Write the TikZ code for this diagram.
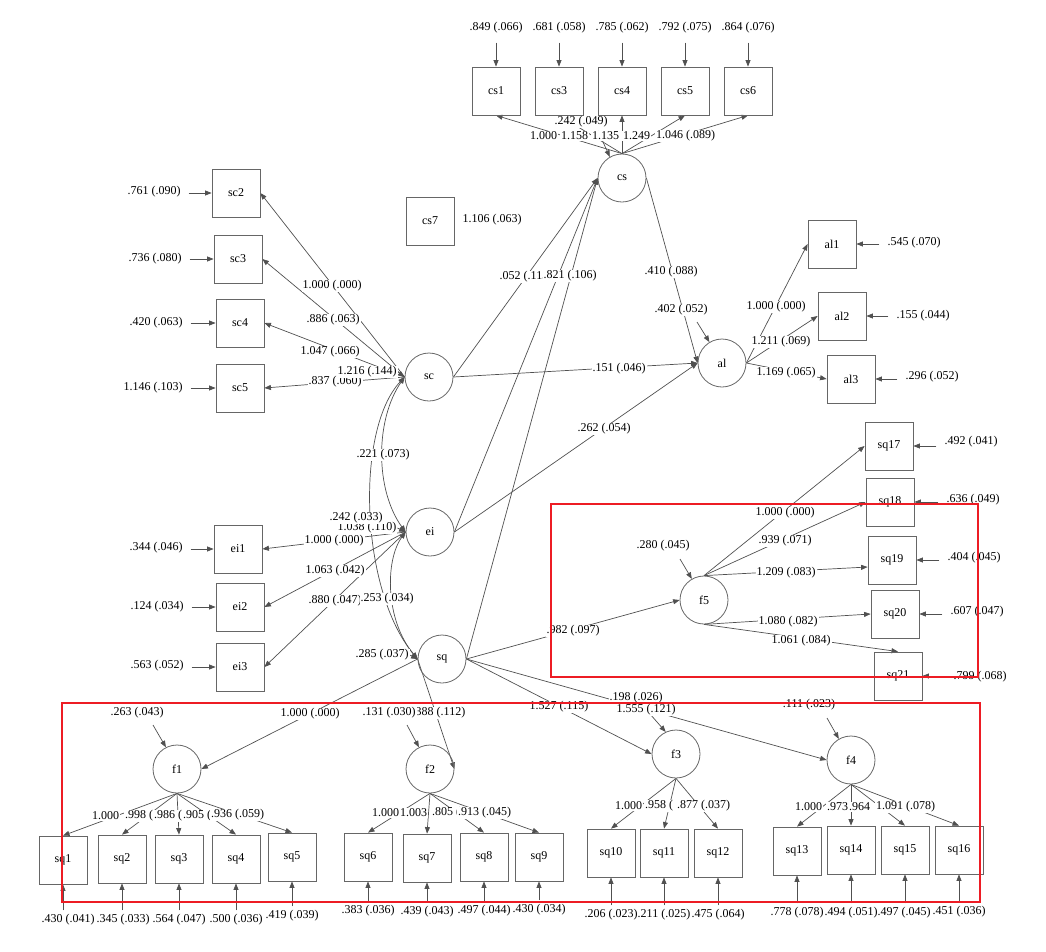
\documentclass[tikz,border=0pt]{standalone}
\usepackage{fontspec}
\setmainfont{Liberation Serif}
\usetikzlibrary{arrows.meta}
\pgfdeclarelayer{bg}
\pgfdeclarelayer{fg}
\pgfsetlayers{bg,main,fg}
\definecolor{hl}{RGB}{237,28,36}
\definecolor{ln}{RGB}{80,80,80}
\begin{document}
\begin{tikzpicture}[x=1pt,y=-1pt,
  font=\fontsize{12}{14}\selectfont,
  obs/.style={draw=black!60, line width=0.8pt, minimum size=48pt, inner sep=0pt},
  lat/.style={circle, draw=black!60, line width=0.8pt, minimum size=48pt, inner sep=0pt},
  est/.style={fill=white, inner sep=1pt},
  estw/.style={fill=white, inner sep=1pt, anchor=west},
  errlbl/.style={inner sep=1pt},
  arr/.style={draw=ln, line width=0.7pt, -{Triangle[length=6.5pt,width=5pt]}},
  cov/.style={draw=ln, line width=0.7pt, {Triangle[length=6.5pt,width=5pt]}-{Triangle[length=6.5pt,width=5pt]}},
  errv/.style={arr, shorten <=3pt},
  errt/.style={arr, shorten <=8pt},
  errh/.style={arr, shorten <=7pt},
  redframe/.style={draw=hl, line width=2pt},
]
\useasboundingbox (0,0) rectangle (1046,951);

% ---------- latent variables ----------
\node[lat] (cs) at (622,178) {cs};
\node[lat] (sc) at (429,377) {sc};
\node[lat] (ei) at (430,532) {ei};
\node[lat] (sq) at (442,659) {sq};
\node[lat] (al) at (722,363) {al};
\node[lat] (f1) at (177,769) {f1};
\node[lat] (f2) at (430,769) {f2};
\node[lat] (f3) at (676,754) {f3};
\node[lat] (f4) at (851,760) {f4};
\node[lat] (f5) at (704,600) {f5};

% ---------- indicators ----------
\node[obs] (cs1) at (496,91) {cs1};
\node[obs] (cs3) at (559,91) {cs3};
\node[obs] (cs4) at (622,91) {cs4};
\node[obs] (cs5) at (685,91) {cs5};
\node[obs] (cs6) at (748,91) {cs6};
\node[obs] (cs7) at (430,221) {cs7};
\node[obs] (sc2) at (236,193) {sc2};
\node[obs] (sc3) at (238,259) {sc3};
\node[obs] (sc4) at (240,323) {sc4};
\node[obs] (sc5) at (240,388) {sc5};
\node[obs] (ei1) at (238,549) {ei1};
\node[obs] (ei2) at (240,607) {ei2};
\node[obs] (ei3) at (240,667) {ei3};
\node[obs] (al1) at (832,244) {al1};
\node[obs] (al2) at (842,316) {al2};
\node[obs] (al3) at (851,379) {al3};
\node[obs] (sq17) at (889,446) {sq17};
\node[obs] (sq18) at (890,502) {sq18};
\node[obs] (sq19) at (892,560) {sq19};
\node[obs] (sq20) at (895,614) {sq20};
\node[obs] (sq21) at (898,676) {sq21};
\node[obs] (sq1) at (63,860) {sq1};
\node[obs] (sq2) at (122,859) {sq2};
\node[obs] (sq3) at (179,859) {sq3};
\node[obs] (sq4) at (236,859) {sq4};
\node[obs] (sq5) at (292,857) {sq5};
\node[obs] (sq6) at (368,857) {sq6};
\node[obs] (sq7) at (427,858) {sq7};
\node[obs] (sq8) at (484,857) {sq8};
\node[obs] (sq9) at (539,857) {sq9};
\node[obs] (sq10) at (611,853) {sq10};
\node[obs] (sq11) at (664,853) {sq11};
\node[obs] (sq12) at (718,853) {sq12};
\node[obs] (sq13) at (797,851) {sq13};
\node[obs] (sq14) at (851,850) {sq14};
\node[obs] (sq15) at (905,850) {sq15};
\node[obs] (sq16) at (959,850) {sq16};

% ---------- residual variances of indicators ----------
\node[errlbl] (ecs1) at (496,28) {.849 (.066)};
\node[errlbl] (ecs3) at (559,28) {.681 (.058)};
\node[errlbl] (ecs4) at (622,28) {.785 (.062)};
\node[errlbl] (ecs5) at (685,28) {.792 (.075)};
\node[errlbl] (ecs6) at (748,28) {.864 (.076)};
\node[errlbl] (ecs7) at (492,220) {1.106 (.063)};
\node[errlbl] (esc2) at (154,192) {.761 (.090)};
\node[errlbl] (esc3) at (155,259) {.736 (.080)};
\node[errlbl] (esc4) at (156,323) {.420 (.063)};
\node[errlbl] (esc5) at (153,388) {1.146 (.103)};
\node[errlbl] (eei1) at (156,548) {.344 (.046)};
\node[errlbl] (eei2) at (157,607) {.124 (.034)};
\node[errlbl] (eei3) at (157,666) {.563 (.052)};
\node[errlbl] (eal1) at (914,243) {.545 (.070)};
\node[errlbl] (eal2) at (923,316) {.155 (.044)};
\node[errlbl] (eal3) at (932,377) {.296 (.052)};
\node[errlbl] (esq17) at (971,442) {.492 (.041)};
\node[errlbl] (esq18) at (973,500) {.636 (.049)};
\node[errlbl] (esq19) at (974,558) {.404 (.045)};
\node[errlbl] (esq20) at (977,612) {.607 (.047)};
\node[errlbl] (esq21) at (980,677) {.799 (.068)};
\node[errlbl] (esq1) at (68,920) {.430 (.041)};
\node[errlbl] (esq2) at (123,920) {.345 (.033)};
\node[errlbl] (esq3) at (179,920) {.564 (.047)};
\node[errlbl] (esq4) at (236,920) {.500 (.036)};
\node[errlbl] (esq5) at (292,916) {.419 (.039)};
\node[errlbl] (esq6) at (368,911) {.383 (.036)};
\node[errlbl] (esq7) at (427,912) {.439 (.043)};
\node[errlbl] (esq8) at (484,911) {.497 (.044)};
\node[errlbl] (esq9) at (539,910) {.430 (.034)};
\node[errlbl] (esq10) at (611,915) {.206 (.023)};
\node[errlbl] (esq11) at (664,915) {.211 (.025)};
\node[errlbl] (esq12) at (718,915) {.475 (.064)};
\node[errlbl] (esq13) at (797,913) {.778 (.078)};
\node[errlbl] (esq14) at (851,913) {.494 (.051)};
\node[errlbl] (esq15) at (904,913) {.497 (.045)};
\node[errlbl] (esq16) at (959,912) {.451 (.036)};

% ---------- estimates on paths (later ones cover earlier ones) ----------
% cs loadings and residual
\node[estw] (lcs1) at (529,136) {1.000};
\node[estw] (lcs3) at (560,136) {1.158};
\node[estw] (lcs4) at (591,136) {1.135};
\node[estw] (lcs5) at (622,136) {1.249};
\node[estw] (lcs6) at (655,136) {1.046 (.089)};
\node[est] (rcs) at (581,122) {.242 (.049)};
% sc loadings and variance
\node[est] (lsc2) at (332,286) {1.000 (.000)};
\node[est] (lsc3) at (333,320) {.886 (.063)};
\node[est] (lsc4) at (330,352) {1.047 (.066)};
\node[est] (lsc5) at (335,382) {.837 (.060)};
\node[est] (vsc) at (367,372) {1.216 (.144)};
% ei loadings, variance and covariances
\node[est] (lei1) at (334,541) {1.000 (.000)};
\node[est] (lei2) at (335,571) {1.063 (.042)};
\node[est] (lei3) at (335,601) {.880 (.047)};
\node[est] (vei) at (367,528) {1.038 (.110)};
\node[est] (csq) at (356,518) {.242 (.033)};
\node[est] (cei) at (383,455) {.221 (.073)};
\node[est] (ceq) at (387,599) {.253 (.034)};
\node[est] (vsq) at (382,655) {.285 (.037)};
% structural paths
\node[est] (bscs) at (526,277) {.052 (.113)};
\node[est] (bqcs) at (570,276) {.821 (.106)};
\node[est] (bcal) at (671,272) {.410 (.088)};
\node[est] (ral) at (681,310) {.402 (.052)};
\node[est] (bsal) at (619,369) {.151 (.046)};
\node[est] (beal) at (604,429) {.262 (.054)};
% al loadings
\node[est] (lal1) at (776,307) {1.000 (.000)};
\node[est] (lal2) at (781,342) {1.211 (.069)};
\node[est] (lal3) at (786,373) {1.169 (.065)};
% f5
\node[est] (bf5) at (573,631) {.982 (.097)};
\node[est] (rf5) at (663,546) {.280 (.045)};
\node[est] (lsq17) at (785,513) {1.000 (.000)};
\node[est] (lsq18) at (785,541) {.939 (.071)};
\node[est] (lsq19) at (786,573) {1.209 (.083)};
\node[est] (lsq20) at (788,622) {1.080 (.082)};
\node[est] (lsq21) at (801,641) {1.061 (.084)};
% second-order loadings and residuals
\node[est] (bf1) at (310,714) {1.000 (.000)};
\node[est] (bf2) at (439,713) {.388 (.112)};
\node[est] (rf2) at (389,713) {.131 (.030)};
\node[est] (rf1) at (137,713) {.263 (.043)};
\node[est] (bf3) at (559,707) {1.527 (.115)};
\node[est] (bf4) at (646,710) {1.555 (.121)};
\node[est] (rf3) at (636,698) {.198 (.026)};
\node[est] (rf4) at (809,705) {.111 (.023)};
% f1 loadings
\node[estw] (lsq1) at (91,816) {1.000};
\node[estw] (lsq2) at (124,816) {.998 (};
\node[estw] (lsq3) at (153,816) {.986 (};
\node[estw] (lsq4) at (182,816) {.905 (};
\node[estw] (lsq5) at (210,815) {.936 (.059)};
% f2 loadings
\node[estw] (lsq6) at (371,813) {1.000};
\node[estw] (lsq7) at (399,813) {1.003};
\node[estw] (lsq8) at (431,813) {.805 (};
\node[estw] (lsq9) at (457,813) {.913 (.045)};
% f3 loadings
\node[estw] (lsq10) at (614,806) {1.000};
\node[estw] (lsq11) at (644,806) {.958 (};
\node[estw] (lsq12) at (676,806) {.877 (.037)};
% f4 loadings
\node[estw] (lsq13) at (794,807) {1.000};
\node[estw] (lsq14) at (826,807) {.973};
\node[estw] (lsq15) at (848,807) {.964};
\node[estw] (lsq16) at (875,807) {1.091 (.078)};

% free ends of the residual arrows of latent variables
\coordinate (rcs-t) at (598,131);
\coordinate (ral-t) at (697,322);
\coordinate (rf5-t) at (680,559);
\coordinate (rf1-t) at (153,725);
\coordinate (rf2-t) at (407,725);
\coordinate (rf3-t) at (650,714);
\coordinate (rf4-t) at (827,718);

% ---------- connectors ----------
\begin{pgfonlayer}{bg}
% indicator residuals
\foreach \v in {cs1,cs3,cs4,cs5,cs6}
  \draw[errt] (\v.north |- e\v.south) -- (\v.north);
\foreach \v in {sc2,sc3,sc4,sc5,ei1,ei2,ei3}
  \draw[errh] (e\v.east |- \v.west) -- (\v.west);
\foreach \v in {al1,al2,al3,sq17,sq18,sq19,sq20,sq21}
  \draw[errh] (e\v.west |- \v.east) -- (\v.east);
\foreach \v in {sq1,sq2,sq3,sq4,sq5,sq6,sq7,sq8,sq9,sq10,sq11,sq12,sq13,sq14,sq15,sq16}
  \draw[errv] (\v.south |- e\v.north) -- (\v.south);

% measurement parts
\foreach \v in {cs1,cs3,cs4,cs5,cs6} \draw[arr] (cs.north) -- (\v.south);
\foreach \v in {sc2,sc3,sc4,sc5} \draw[arr] (sc.west) -- (\v.east);
\foreach \v in {ei1,ei2,ei3} \draw[arr] (ei.west) -- (\v.east);
\foreach \v in {al1,al2,al3} \draw[arr] (al.east) -- (\v.west);
\draw[arr] (f5.north) -- (sq17.west);
\draw[arr] (f5.north) -- (sq18.west);
\draw[arr] (f5.north) -- ([yshift=-7pt]sq19.west);
\draw[arr] (f5.south) -- (sq20.west);
\draw[arr] (f5.south) -- (sq21.north);
\foreach \v in {sq1,sq2,sq3,sq4,sq5} \draw[arr] (f1.south) -- (\v.north);
\foreach \v in {sq6,sq7,sq8,sq9} \draw[arr] (f2.south) -- (\v.north);
\foreach \v in {sq10,sq11,sq12} \draw[arr] (f3.south) -- (\v.north);
\foreach \v in {sq13,sq14,sq15,sq16} \draw[arr] (f4.south) -- (\v.north);

% variances and residuals of latent variables
\draw[arr] (vsc.east) -- (sc.west);
\draw[arr] (vei.east) -- (ei.west);
\draw[arr] (vsq.east) -- (sq.west);
\draw[arr] (rcs-t) -- (cs.120);
\draw[arr] (ral-t) -- (al.121);
\draw[arr] (rf5-t) -- (f5.120);
\draw[arr] (rf1-t) -- (f1.117);
\draw[arr] (rf2-t) -- (f2.117);
\draw[arr] (rf3-t) -- (f3.115);
\draw[arr] (rf4-t) -- (f4.120);

% covariances
\draw[cov] (sc.west) .. controls (375,420) and (375,490) .. (ei.west);
\draw[cov] (sc.west) .. controls (355,430) and (360,590) .. (sq.west);
\draw[cov] (ei.west) .. controls (385,560) and (385,620) .. (sq.west);

% structural paths
\draw[arr] (sc.east) -- (cs.west);
\draw[arr] (ei.east) -- (cs.west);
\draw[arr] (sq.east) -- (cs.west);
\draw[arr] (sc.east) -- (al.west);
\draw[arr] (ei.east) -- (al.west);
\draw[arr] (cs.east) -- (al.west);
\draw[arr] (sq.east) -- (f5.west);
\draw[arr] (sq.east) -- (f3.west);
\draw[arr] (sq.east) -- (f4.west);
\draw[arr] (sq.west) -- (f1.east);
\draw[arr] (sq.west) -- (f2.east);
\end{pgfonlayer}

% ---------- highlighted groups ----------
\begin{pgfonlayer}{fg}
\draw[redframe] (551,504) rectangle (978,677);
\draw[redframe] (62,703) rectangle (980,902);
\end{pgfonlayer}
\end{tikzpicture}
\end{document}
